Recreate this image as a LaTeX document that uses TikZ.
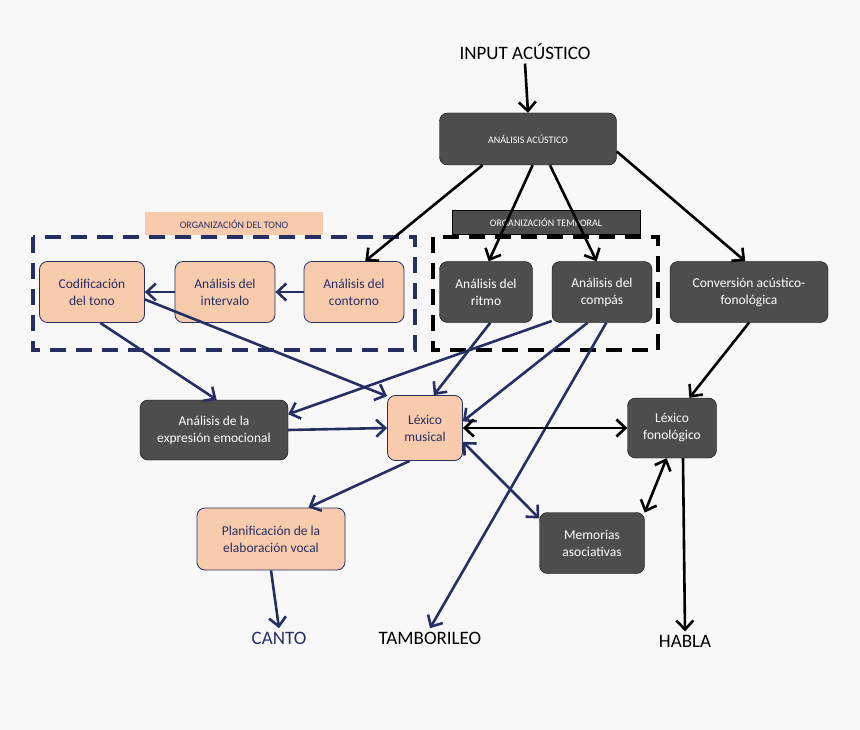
\documentclass[tikz,border=0pt]{standalone}
\usepackage{fontspec}
\setmainfont{Carlito}
\usetikzlibrary{arrows.meta}
\definecolor{navy}{HTML}{262F64}
\definecolor{dk}{HTML}{4D4D4D}
\definecolor{peach}{HTML}{F8CBAD}
\definecolor{bg}{HTML}{F8F8F8}
\begin{document}
\begin{tikzpicture}[x=1pt,y=-1pt,
 >={Straight Barb[length=9pt,width=17pt]},
 box/.style={draw=black,fill=dk,text=white,rounded corners=8pt,align=center,font=\fontsize{13.5}{17}\selectfont,minimum height=61pt,inner sep=2pt},
 pbox/.style={draw=navy,line width=0.8pt,fill=peach,text=navy,rounded corners=8pt,align=center,font=\fontsize{13.5}{17}\selectfont,minimum height=61pt,inner sep=2pt},
 ba/.style={line width=2.6pt,black,->},
 na/.style={line width=2.6pt,navy,->},
 lbl/.style={font=\fontsize{19}{22}\selectfont}]
\fill[bg] (0,0) rectangle (860,730);
% dashed groups
\draw[navy,line width=4pt,dash pattern=on 16pt off 10pt] (33,237) rectangle (415,350);
\draw[black,line width=4pt,dash pattern=on 16pt off 10pt] (433,237) rectangle (658,350);
\node[fill=peach,minimum width=178pt,minimum height=23pt,text=navy,font=\fontsize{10}{12}\selectfont,inner sep=0] (ot) at (234,224) {ORGANIZACIÓN DEL TONO};
\node[draw=black,fill=dk,minimum width=188pt,minimum height=24pt,text=white,font=\fontsize{10}{12}\selectfont,inner sep=0] (otp) at (546,222) {ORGANIZACIÓN TEMPORAL};
% nodes
\node[lbl] (in) at (525,52) {INPUT ACÚSTICO};
\node[box,minimum width=177pt,minimum height=52pt,font=\fontsize{10}{12}\selectfont] (acu) at (528,139) {ANÁLISIS ACÚSTICO};
\node[pbox,minimum width=105pt] (cod) at (92,292) {Codificación\\del tono};
\node[pbox,minimum width=100pt] (int) at (225,292) {Análisis del\\intervalo};
\node[pbox,minimum width=100pt] (con) at (354,292) {Análisis del\\contorno};
\node[box,minimum width=93pt] (rit) at (486,292) {Análisis del\\ritmo};
\node[box,minimum width=100pt] (com) at (602,292) {Análisis del\\compás};
\node[box,minimum width=158pt] (cnv) at (749,292) {Conversión acústico-\\fonológica};
\node[box,minimum width=148pt,minimum height=60pt] (emo) at (214,430) {Análisis de la\\expresión emocional};
\node[pbox,minimum width=75pt,minimum height=65pt] (lm) at (425,428) {Léxico\\musical};
\node[box,minimum width=89pt,minimum height=60pt] (lf) at (672,428) {Léxico\\fonológico};
\node[pbox,minimum width=148pt,minimum height=62pt] (pla) at (271,539) {Planificación de la\\elaboración vocal};
\node[box,minimum width=105pt,minimum height=61pt] (mem) at (592,543) {Memorias\\asociativas};
\node[lbl,text=navy] (canto) at (279,638) {CANTO};
\node[lbl] (tam) at (430,638) {TAMBORILEO};
\node[lbl] (hab) at (685,641) {HABLA};
% arrows
\draw[ba] (in.south) -- (acu.north);
\draw[ba] (acu.-150) -- (con.70);
\draw[ba] (acu.-80) -- (rit.85);
\draw[ba] (acu.-50) -- (com.100);
\draw[ba] (acu.-8) -- (cnv.97);
\draw[na] (con.west) -- (int.east);
\draw[na] (int.west) -- (cod.east);
\draw[na] (cod.-75) -- (emo.85);
\draw[na] (cod.-8) -- (lm.140);
\draw[na] (rit.-82) -- (lm.75);
\draw[na] (com.-150) -- (emo.12);
\draw[na] (com.-115) -- (lm.10);
\draw[na] (com.-82) -- (tam.north);
\draw[na] (emo.east) -- (lm.west);
\draw[ba,<->] (lm.east) -- (lf.west);
\draw[na] (lm.-115) -- (pla.40);
\draw[na,<->] (lm.-20) -- (mem.155);
\draw[ba] (cnv.-90) -- (lf.60);
\draw[ba,<->] (lf.-100) -- (mem.30);
\draw[ba] (lf.-70) -- (hab.north);
\draw[na] (pla.south) -- (canto.north);
\end{tikzpicture}
\end{document}
